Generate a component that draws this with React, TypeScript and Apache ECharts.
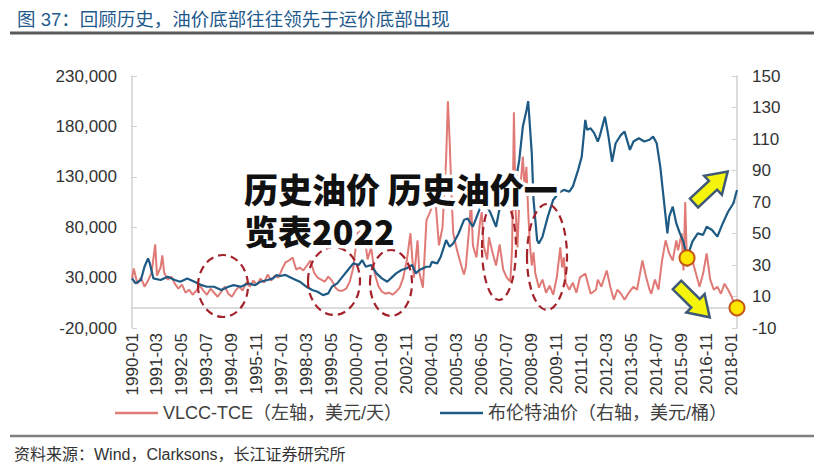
import React, { useEffect, useRef } from 'react';
import * as echarts from 'echarts';

// Monthly category labels 1990-01 .. 2018-04
const months: string[] = [];
for (let y = 1990; y <= 2018; y++) {
  for (let m = 1; m <= 12; m++) {
    if (y === 2018 && m > 4) break;
    months.push(`${y}-${String(m).padStart(2, '0')}`);
  }
}

const leftTicks = { min: -20000, max: 230000, interval: 50000 };
const rightTicks = { min: -10, max: 150, interval: 20 };

const vlccName = 'VLCC-TCE（左轴，美元/天）';
const brentName = '布伦特油价（右轴，美元/桶）';

// VLCC-TCE, USD/day (left axis)
const vlccTce: [string, number][] = [
  ['1990-01', 29000], ['1990-02', 39000], ['1990-04', 24000], ['1990-06', 30000], ['1990-08', 21000],
  ['1990-10', 27000], ['1990-12', 35000], ['1991-02', 63000], ['1991-03', 32000], ['1991-05', 40000],
  ['1991-06', 52000], ['1991-07', 35000], ['1991-09', 28000], ['1991-11', 31000], ['1992-01', 24000],
  ['1992-03', 19000], ['1992-05', 23000], ['1992-07', 15000], ['1992-09', 18000], ['1992-11', 13000],
  ['1993-01', 17000], ['1993-03', 22000], ['1993-05', 17000], ['1993-07', 13000], ['1993-09', 19000],
  ['1993-11', 15000], ['1994-01', 11000], ['1994-03', 16000], ['1994-05', 21000], ['1994-07', 14000],
  ['1994-09', 11000], ['1994-11', 17000], ['1995-01', 21000], ['1995-03', 17000], ['1995-05', 25000],
  ['1995-07', 21000], ['1995-09', 27000], ['1995-11', 23000], ['1996-01', 29000], ['1996-03', 25000],
  ['1996-05', 33000], ['1996-07', 27000], ['1996-09', 32000], ['1996-11', 30000], ['1997-01', 38000],
  ['1997-03', 45000], ['1997-05', 47000], ['1997-07', 50000], ['1997-09', 38000], ['1997-11', 40000],
  ['1998-01', 37000], ['1998-03', 42000], ['1998-05', 47000], ['1998-07', 35000], ['1998-09', 30000],
  ['1998-11', 28000], ['1999-01', 26000], ['1999-03', 31000], ['1999-05', 27000], ['1999-07', 20000],
  ['1999-09', 17000], ['1999-11', 17000], ['2000-01', 19000], ['2000-03', 26000], ['2000-05', 40000],
  ['2000-06', 55000], ['2000-08', 80000], ['2000-10', 62000], ['2000-11', 76000], ['2001-01', 48000],
  ['2001-03', 60000], ['2001-05', 34000], ['2001-07', 22000], ['2001-09', 16000], ['2001-11', 14000],
  ['2002-01', 15000], ['2002-03', 13000], ['2002-05', 16000], ['2002-07', 20000], ['2002-09', 30000],
  ['2002-11', 47000], ['2003-01', 74000], ['2003-02', 50000], ['2003-03', 30000], ['2003-05', 67000],
  ['2003-06', 35000], ['2003-08', 20000], ['2003-10', 87000], ['2003-12', 95000], ['2004-01', 100000],
  ['2004-03', 107000], ['2004-05', 62000], ['2004-07', 80000], ['2004-09', 147000], ['2004-10', 205000],
  ['2004-11', 165000], ['2004-12', 114000], ['2005-01', 74000], ['2005-03', 58000], ['2005-05', 45000],
  ['2005-07', 33000], ['2005-08', 40000], ['2005-10', 80000], ['2005-11', 107000], ['2005-12', 62000],
  ['2006-02', 50000], ['2006-04', 85000], ['2006-05', 95000], ['2006-06', 62000], ['2006-08', 48000],
  ['2006-09', 70000], ['2006-11', 55000], ['2007-01', 42000], ['2007-03', 63000], ['2007-05', 38000],
  ['2007-07', 30000], ['2007-09', 26000], ['2007-10', 60000], ['2007-11', 194000], ['2007-12', 95000],
  ['2008-01', 60000], ['2008-02', 105000], ['2008-04', 150000], ['2008-05', 118000], ['2008-06', 140000],
  ['2008-07', 95000], ['2008-08', 62000], ['2008-09', 42000], ['2008-10', 55000], ['2008-11', 34000],
  ['2009-01', 20000], ['2009-03', 28000], ['2009-05', 15000], ['2009-07', 22000], ['2009-09', 13000],
  ['2009-11', 30000], ['2010-01', 60000], ['2010-02', 40000], ['2010-03', 50000], ['2010-04', 25000],
  ['2010-06', 18000], ['2010-08', 25000], ['2010-10', 15000], ['2010-12', 30000], ['2011-03', 34000],
  ['2011-06', 14000], ['2011-09', 18000], ['2011-10', 28000], ['2011-12', 21000], ['2012-03', 37000],
  ['2012-05', 21000], ['2012-07', 8000], ['2012-09', 18000], ['2012-11', 14000], ['2013-01', 8000],
  ['2013-03', 14000], ['2013-06', 21000], ['2013-08', 18000], ['2013-11', 47000], ['2014-01', 31000],
  ['2014-03', 18000], ['2014-04', 14000], ['2014-06', 28000], ['2014-08', 18000], ['2014-10', 47000],
  ['2014-12', 67000], ['2015-02', 54000], ['2015-04', 47000], ['2015-06', 67000], ['2015-07', 57000],
  ['2015-09', 74000], ['2015-10', 37000], ['2015-11', 105000], ['2015-12', 41000], ['2016-03', 47000],
  ['2016-05', 34000], ['2016-07', 21000], ['2016-09', 34000], ['2016-11', 54000], ['2017-01', 28000],
  ['2017-03', 18000], ['2017-05', 21000], ['2017-07', 14000], ['2017-09', 24000], ['2017-11', 18000],
  ['2018-01', 11000], ['2018-03', 1000], ['2018-04', 0],
];

// Brent crude, USD/barrel (right axis)
const brent: [string, number][] = [
  ['1990-01', 21.5], ['1990-03', 18.3], ['1990-06', 20.5], ['1990-08', 28.9], ['1990-10', 34.2],
  ['1990-11', 31], ['1991-01', 21.5], ['1991-05', 20.5], ['1991-09', 22.6], ['1992-01', 20.5],
  ['1992-04', 19.4], ['1992-08', 21.5], ['1992-12', 19.4], ['1993-04', 17.2], ['1993-07', 16.2],
  ['1993-11', 16.2], ['1994-03', 14.1], ['1994-07', 16.2], ['1994-10', 17.2], ['1995-02', 16.2],
  ['1995-06', 18.3], ['1995-10', 17.2], ['1996-01', 19.4], ['1996-05', 20.5], ['1996-08', 21.5],
  ['1996-10', 23.6], ['1996-12', 23], ['1997-03', 23.7], ['1997-07', 21.5], ['1997-11', 19.4],
  ['1998-03', 16], ['1998-06', 14.1], ['1998-09', 13], ['1998-12', 10.9], ['1999-03', 12],
  ['1999-05', 16.2], ['1999-08', 18.3], ['1999-11', 22.6], ['2000-02', 26.8], ['2000-05', 31],
  ['2000-08', 30], ['2000-10', 33.1], ['2000-12', 28.9], ['2001-03', 30], ['2001-06', 24.7],
  ['2001-09', 21.5], ['2001-12', 19.4], ['2002-02', 21.5], ['2002-05', 24.7], ['2002-08', 26.8],
  ['2002-11', 27.9], ['2003-02', 30], ['2003-04', 24.7], ['2003-06', 26.8], ['2003-10', 28.9],
  ['2003-12', 29], ['2004-01', 32], ['2004-04', 31], ['2004-06', 35.3], ['2004-09', 45.8],
  ['2004-11', 41.6], ['2005-01', 43.7], ['2005-04', 50], ['2005-07', 58.5], ['2005-09', 59.6],
  ['2005-12', 54.3], ['2006-04', 66], ['2006-07', 69.2], ['2006-10', 62.8], ['2007-01', 54.3],
  ['2007-03', 66], ['2007-06', 71.3], ['2007-09', 75.6], ['2007-12', 83], ['2008-02', 96.7],
  ['2008-04', 117.9], ['2008-06', 128], ['2008-07', 134], ['2008-09', 101], ['2008-10', 71.3],
  ['2008-12', 45.8], ['2009-01', 43.7], ['2009-03', 48], ['2009-06', 60.7], ['2009-09', 71.3],
  ['2009-12', 75.6], ['2010-03', 77.7], ['2010-06', 76.6], ['2010-08', 79.8], ['2010-11', 90.4],
  ['2011-01', 98.8], ['2011-03', 122.1], ['2011-04', 115.8], ['2011-06', 116.8], ['2011-08', 113.7],
  ['2011-10', 108.4], ['2011-11', 111.5], ['2012-02', 124.2], ['2012-04', 111.5], ['2012-06', 95.6],
  ['2012-08', 107.3], ['2012-11', 112.6], ['2013-01', 114.7], ['2013-04', 103.1], ['2013-06', 108.4],
  ['2013-09', 110.5], ['2013-12', 108.4], ['2014-03', 109.5], ['2014-05', 111.5], ['2014-07', 107.3],
  ['2014-09', 92.5], ['2014-11', 71.3], ['2015-01', 50.1], ['2015-02', 60.7], ['2015-04', 67],
  ['2015-06', 56.4], ['2015-08', 50.1], ['2015-10', 44.8], ['2015-12', 34.5], ['2016-01', 38],
  ['2016-03', 44.8], ['2016-06', 50.1], ['2016-09', 49.1], ['2016-11', 54.3], ['2017-02', 52.2],
  ['2017-05', 48], ['2017-08', 56.4], ['2017-11', 63.8], ['2018-02', 69.2], ['2018-04', 77.6],
];

const brentBottom = '2015-12';
const vlccBottom = '2018-04';

const FONT = "'Liberation Sans', 'Noto Sans CJK SC', sans-serif";
const WM_FONT = "900 34px 'Noto Sans CJK SC', sans-serif";

function arrowPoints(): number[][] {
  return [[0, -6], [26, -6], [26, -13], [46, 0], [26, 13], [26, 6], [0, 6]];
}

export default function App() {
  const ref = useRef<HTMLDivElement>(null);
  useEffect(() => {
    if (!ref.current) return;
    const chart = echarts.init(ref.current, undefined, { renderer: 'svg' });
    const brentMark = brent.find((d) => d[0] === brentBottom)!;
    const vlccMark = vlccTce.find((d) => d[0] === vlccBottom)!;
    const circleStyle = { color: '#ffe600', borderColor: '#c0561a', borderWidth: 2 };
    const ellipseStyle = { fill: 'none', stroke: '#a3222a', lineWidth: 2.2, lineDash: [8, 5] };
    const arrowStyle = { fill: '#f4f40c', stroke: '#3e5878', lineWidth: 2.5 };
    const option: any = {
      animation: false,
      backgroundColor: '#ffffff',
      textStyle: { fontFamily: FONT },
      title: {
        text: '图 37：回顾历史，油价底部往往领先于运价底部出现',
        left: 12,
        top: 5,
        textStyle: { fontSize: 18.5, fontWeight: 'normal', color: '#1f5a8c', fontFamily: FONT },
      },
      legend: {
        left: 110,
        top: 399,
        icon: 'rect',
        itemWidth: 43,
        itemHeight: 2.5,
        itemGap: 38,
        textStyle: { fontSize: 18, color: '#404040', fontFamily: FONT },
        data: [vlccName, brentName],
      },
      grid: { left: 132, right: 77, top: 76, bottom: 145 },
      xAxis: {
        type: 'category',
        data: months,
        boundaryGap: false,
        axisLine: { onZero: true, lineStyle: { color: '#d0d0d0', width: 1.5 } },
        axisTick: { show: false },
        axisLabel: { rotate: 90, interval: 13, fontSize: 17, color: '#333', margin: 5, fontFamily: FONT },
        splitLine: { show: false },
      },
      yAxis: [
        {
          type: 'value',
          position: 'left',
          min: leftTicks.min,
          max: leftTicks.max,
          interval: leftTicks.interval,
          axisLine: { show: true, lineStyle: { color: '#d0d0d0', width: 1.5 } },
          axisTick: { show: true, inside: true, length: 5, lineStyle: { color: '#d0d0d0' } },
          axisLabel: {
            fontSize: 17,
            color: '#333',
            margin: 15,
            fontFamily: FONT,
            formatter: (v: number) => v.toLocaleString('en-US'),
          },
          splitLine: { show: false },
        },
        {
          type: 'value',
          position: 'right',
          min: rightTicks.min,
          max: rightTicks.max,
          interval: rightTicks.interval,
          axisLine: { show: true, lineStyle: { color: '#d0d0d0', width: 1.5 } },
          axisTick: { show: true, inside: true, length: 5, lineStyle: { color: '#d0d0d0' } },
          axisLabel: { fontSize: 17, color: '#333', margin: 15, fontFamily: FONT },
          splitLine: { show: false },
        },
      ],
      series: [
        {
          type: 'line',
          name: vlccName,
          yAxisIndex: 0,
          data: vlccTce,
          symbol: 'none',
          lineStyle: { color: '#e07a76', width: 2 },
          itemStyle: { color: '#e07a76' },
          z: 2,
          markPoint: {
            symbol: 'circle',
            symbolSize: 15,
            silent: true,
            label: { show: false },
            itemStyle: circleStyle,
            data: [{ coord: [vlccMark[0], vlccMark[1]] }],
            z: 20,
          },
        },
        {
          type: 'line',
          name: brentName,
          yAxisIndex: 1,
          data: brent,
          symbol: 'none',
          lineStyle: { color: '#1d5a84', width: 2.2 },
          itemStyle: { color: '#1d5a84' },
          z: 3,
          markPoint: {
            symbol: 'circle',
            symbolSize: 15,
            silent: true,
            label: { show: false },
            itemStyle: circleStyle,
            data: [{ coord: [brentMark[0], brentMark[1]] }],
            z: 20,
          },
        },
      ],
      graphic: [
        { type: 'line', z: 100, shape: { x1: 10, y1: 33, x2: 814, y2: 33 }, style: { stroke: '#595959', lineWidth: 3 } },
        { type: 'line', z: 100, shape: { x1: 10, y1: 436, x2: 814, y2: 436 }, style: { stroke: '#808080', lineWidth: 2.5 } },
        {
          type: 'text', z: 100, left: 14, top: 446,
          style: { text: '资料来源：Wind，Clarksons，长江证券研究所', fill: '#333', font: `16px ${FONT}` },
        },
        { type: 'ellipse', z: 100, shape: { cx: 223, cy: 286, rx: 25, ry: 31 }, style: ellipseStyle },
        { type: 'ellipse', z: 100, shape: { cx: 334, cy: 281, rx: 26, ry: 34 }, style: ellipseStyle },
        { type: 'ellipse', z: 100, shape: { cx: 391, cy: 283, rx: 21, ry: 33 }, style: ellipseStyle },
        { type: 'ellipse', z: 100, shape: { cx: 499, cy: 248, rx: 17, ry: 52 }, style: ellipseStyle },
        { type: 'ellipse', z: 100, shape: { cx: 547, cy: 257, rx: 20, ry: 53 }, style: ellipseStyle },
        { type: 'polygon', z: 101, x: 694, y: 203, rotation: 0.75, shape: { points: arrowPoints() }, style: arrowStyle },
        { type: 'polygon', z: 101, x: 677, y: 285, rotation: -0.78, shape: { points: arrowPoints() }, style: arrowStyle },
        {
          type: 'text', z: 110, x: 244, y: 167,
          style: {
            text: '历史油价 历史油价一\n览表2022', fill: '#111', stroke: '#fff', lineWidth: 7, strokeFirst: true,
            font: WM_FONT, lineHeight: 42, verticalAlign: 'top',
          },
        },
      ],
    };
    chart.setOption(option);
    return () => chart.dispose();
  }, []);
  return (
    <div
      ref={ref}
      style={{ position: 'fixed', left: 0, top: 0, width: 814, height: 473, background: '#fff' }}
    />
  );
}
